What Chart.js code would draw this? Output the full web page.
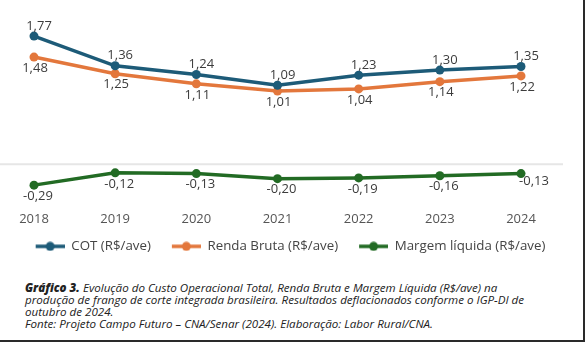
<!DOCTYPE html>
<html>
<head>
<meta charset="utf-8">
<script src="https://cdn.jsdelivr.net/npm/chart.js@4.4.1/dist/chart.umd.min.js"></script>
<style>
  body { margin: 0; background: #fff; }
  #frame {
    position: relative; width: 585px; height: 342px; box-sizing: border-box;
    border-right: 2px solid #2a2a2a; border-bottom: 2px solid #2a2a2a; overflow: hidden;
  }
  #wrap { position: absolute; left: 0; top: 0; width: 586px; height: 263px; }
  #caption {
    position: absolute; left: 25px; top: 282px; width: 560px;
    font-family: "Open Sans", sans-serif; font-style: italic; font-size: 11.6px;
    line-height: 12px; color: #222; white-space: nowrap;
  }
  #caption b { font-weight: 800; }
</style>
</head>
<body>
<div id="frame">
  <div id="wrap"><canvas id="linechart"></canvas></div>
  <div id="caption">
    <b>Gráfico 3.</b> Evolução do Custo Operacional Total, Renda Bruta e Margem Líquida (R$/ave) na<br>
    produção de frango de corte integrada brasileira. Resultados deflacionados conforme o IGP-DI de<br>
    outubro de 2024.<br>
    Fonte: Projeto Campo Futuro – CNA/Senar (2024). Elaboração: Labor Rural/CNA.
  </div>
</div>
<script>
/* Data */
const years = ['2018', '2019', '2020', '2021', '2022', '2023', '2024'];
const cot = [1.77, 1.36, 1.24, 1.09, 1.23, 1.30, 1.35];
const rendaBruta = [1.48, 1.25, 1.11, 1.01, 1.04, 1.14, 1.22];
const margemLiquida = [-0.29, -0.12, -0.13, -0.20, -0.19, -0.16, -0.13];

const BLUE = '#1d5b78';
const ORANGE = '#e3773c';
const GREEN = '#226b24';
const FONT = '"Open Sans", sans-serif';

// Legend marker: short line with a dot, blank space on its left keeps items apart
function legendMarker(color) {
  const c = document.createElement('canvas');
  c.width = 46; c.height = 10;
  const g = c.getContext('2d');
  g.strokeStyle = color; g.lineWidth = 3.5;
  g.beginPath(); g.moveTo(17, 5); g.lineTo(46, 5); g.stroke();
  g.fillStyle = color;
  g.beginPath(); g.arc(31.5, 5, 4.5, 0, Math.PI * 2); g.fill();
  return c;
}

// Format numbers the Brazilian way (comma decimals)
function fmt(v) {
  return v.toFixed(2).replace('.', ',');
}

// Draws the value next to each point
const valueLabels = {
  id: 'valueLabels',
  afterDatasetsDraw(chart, args, opts) {
    const ctx = chart.ctx;
    ctx.save();
    ctx.font = '13px ' + FONT;
    ctx.fillStyle = '#3c3c3c';
    ctx.textAlign = 'center';
    ctx.textBaseline = 'middle';
    chart.data.datasets.forEach((ds, i) => {
      const meta = chart.getDatasetMeta(i);
      const off = opts.offsets[i];
      meta.data.forEach((pt, j) => {
        let dx = off.dx, dy = off.dy;
        if (off.last && j === meta.data.length - 1) { dx = off.last.dx; dy = off.last.dy; }
        ctx.fillText(fmt(ds.data[j]), pt.x + dx, pt.y + dy);
      });
    });
    ctx.restore();
  }
};

// Light line at zero, wider than the plotting area
const zeroLine = {
  id: 'zeroLine',
  beforeDatasetsDraw(chart) {
    const ctx = chart.ctx;
    const y = chart.scales.y.getPixelForValue(0);
    ctx.save();
    ctx.strokeStyle = '#e6e6e6';
    ctx.lineWidth = 2;
    ctx.beginPath(); ctx.moveTo(0, y); ctx.lineTo(563, y); ctx.stroke();
    ctx.restore();
  }
};

const markers = [legendMarker(BLUE), legendMarker(ORANGE), legendMarker(GREEN)];

// Hidden side axes just reserve room on the left and right
function fixedWidth(w) {
  return (axis) => { axis.width = w; };
}

new Chart('linechart', {
  type: 'line',
  data: {
    labels: years,
    datasets: [
      { label: 'COT (R$/ave)', data: cot, borderColor: BLUE, backgroundColor: BLUE },
      { label: 'Renda Bruta (R$/ave)', data: rendaBruta, borderColor: ORANGE, backgroundColor: ORANGE },
      { label: 'Margem líquida (R$/ave)', data: margemLiquida, borderColor: GREEN, backgroundColor: GREEN }
    ]
  },
  options: {
    responsive: true,
    maintainAspectRatio: false,
    animation: false,
    layout: { padding: { left: 0, right: 22, top: 5, bottom: 0 } },
    elements: {
      line: { borderWidth: 3.5, tension: 0, fill: false },
      point: { radius: 4.5, borderWidth: 0, hoverRadius: 5 }
    },
    scales: {
      x: {
        offset: false,
        grid: { display: false, drawTicks: false },
        border: { display: false },
        ticks: { color: '#555', font: { family: FONT, size: 13 }, padding: 18 },
        // pull the legend a little closer to the year labels
        afterFit(axis) { axis.height -= 9; }
      },
      y: {
        position: 'left',
        min: -0.4,
        max: 2.2,
        grid: { display: false, drawTicks: false },
        border: { display: false },
        ticks: { display: false },
        afterFit: fixedWidth(34)
      },
      yRight: {
        position: 'right',
        min: -0.4,
        max: 2.2,
        grid: { display: false, drawTicks: false },
        border: { display: false },
        ticks: { display: false },
        afterFit: fixedWidth(43)
      }
    },
    plugins: {
      legend: {
        position: 'bottom',
        labels: {
          usePointStyle: true,
          pointStyleWidth: 46,
          color: '#444',
          padding: 4,
          font: { family: FONT, size: 13.3 },
          generateLabels(chart) {
            return chart.data.datasets.map((ds, i) => ({
              text: ds.label,
              pointStyle: markers[i],
              fillStyle: ds.borderColor,
              strokeStyle: ds.borderColor,
              lineWidth: 0,
              fontColor: '#444',
              datasetIndex: i
            }));
          }
        }
      },
      tooltip: { enabled: false },
      valueLabels: {
        offsets: [
          { dx: 5, dy: -10 },
          { dx: 1, dy: 11 },
          { dx: 4, dy: 11, last: { dx: 13, dy: 8 } }
        ]
      }
    }
  },
  plugins: [valueLabels, zeroLine]
});
</script>
</body>
</html>
